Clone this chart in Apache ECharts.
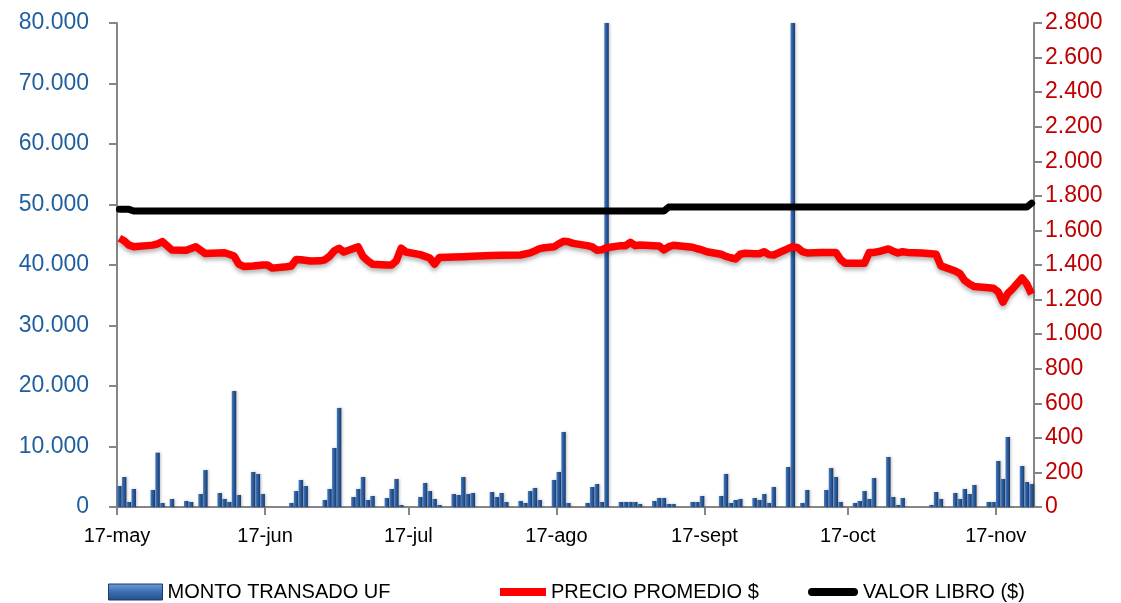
<!DOCTYPE html>
<html>
<head>
<meta charset="utf-8">
<script src="https://cdn.jsdelivr.net/npm/echarts@6/dist/echarts.min.js"></script>
<style>
html,body{margin:0;padding:0;background:#fff;}
#chart{width:1121px;height:603px;}
</style>
</head>
<body>
<div id="chart"></div>
<script>
// Day offsets counted from 17-may
const tickDays = [0, 31, 61, 92, 123, 153, 184];
const tickLabels = ['17-may', '17-jun', '17-jul', '17-ago', '17-sept', '17-oct', '17-nov'];

// MONTO TRANSADO UF (bars)
const barDays = [0,1,2,3,7,8,9,11,14,15,17,18,21,22,23,24,25,28,29,30,36,37,38,39,43,44,45,46,49,50,51,52,53,56,57,58,59,63,64,65,66,67,70,71,72,73,74,78,79,80,81,84,85,86,87,88,91,92,93,94,98,99,100,101,102,105,106,107,108,109,112,113,114,115,116,120,121,122,126,127,128,129,130,133,134,135,136,137,140,141,143,144,148,149,150,151,154,155,156,157,158,161,162,163,164,170,171,172,175,176,177,178,179,182,183,184,185,186,189,190,191];
const barValues = [3470,4960,830,2980,2810,8980,660,1320,990,830,2150,6110,2310,1320,830,19170,1980,5790,5460,2150,660,2640,4460,3470,1160,2980,9750,16370,1650,2980,4960,1160,1820,1490,2980,4630,330,1650,3970,2640,1320,330,2150,1980,4960,2150,2310,2480,1650,2310,830,990,660,2640,3140,1160,4460,5790,12400,660,660,3310,3800,830,150000,830,830,830,830,500,990,1490,1490,500,500,830,830,1820,1820,5460,660,1160,1320,1490,1160,2150,660,3310,6610,150000,660,2810,2810,6440,4960,830,660,990,2640,1320,4790,8260,1650,330,1490,330,2480,1320,2310,1320,2980,2150,3640,830,830,7600,4630,11570,6780,4130,3800];

// PRECIO PROMEDIO $
const priceDays = [0,1,2,3,7,8,9,11,14,16,18,22,23,24,25,26,28,30,31,32,35,36,37,38,40,42,43,44,45,46,47,49,50,51,52,53,56,57,58,59,60,63,64,65,66,67,70,72,74,78,80,84,86,87,88,89,91,92,93,94,95,98,99,100,101,102,105,106,107,108,109,112,113,114,115,116,119,120,121,122,123,126,127,128,129,130,131,133,134,135,136,137,140,141,142,143,144,147,149,150,151,152,154,156,157,158,159,161,162,163,164,165,168,170,171,172,175,176,177,178,179,182,183,184,185,186,187,189,190,191];
const priceValues = [1555,1540,1515,1506,1515,1522,1535,1487,1485,1506,1466,1471,1462,1452,1405,1392,1394,1400,1400,1382,1390,1394,1432,1430,1423,1424,1430,1450,1482,1497,1475,1495,1505,1450,1425,1405,1400,1400,1425,1497,1475,1460,1450,1440,1405,1443,1446,1448,1450,1455,1457,1458,1470,1482,1495,1500,1505,1522,1537,1535,1525,1512,1505,1485,1488,1500,1512,1512,1531,1512,1516,1512,1510,1487,1505,1514,1506,1503,1494,1487,1477,1462,1450,1442,1435,1462,1468,1465,1465,1477,1460,1458,1495,1506,1500,1477,1470,1473,1473,1473,1432,1410,1410,1410,1472,1473,1478,1493,1480,1470,1477,1473,1470,1465,1462,1395,1365,1350,1310,1290,1275,1268,1265,1245,1185,1235,1262,1325,1290,1232];

// VALOR LIBRO ($)
const bookDays = [0,1,2,3,114,115,190,191];
const bookValues = [1722,1722,1722,1712,1712,1735,1735,1758];

const FONT = '"Liberation Sans", Arial, sans-serif';
const fmt = v => String(v).replace(/\B(?=(\d{3})+(?!\d))/g, '.');
const pair = (days, vals) => days.map((d, i) => [d + 0.5, vals[i]]);

const barColor = new echarts.graphic.LinearGradient(0, 0, 1, 0, [
  {offset: 0, color: '#4a7fc4'},
  {offset: 0.35, color: '#2f62a6'},
  {offset: 1, color: '#1b3a6b'}
]);
const legendBarColor = new echarts.graphic.LinearGradient(0, 0, 0, 1, [
  {offset: 0, color: '#6f9fdc'},
  {offset: 0.5, color: '#3a6db3'},
  {offset: 1, color: '#254d88'}
]);

const legendText = {fontFamily: FONT, fontSize: 20, color: '#000'};

const chart = echarts.init(document.getElementById('chart'), null, {renderer: 'canvas'});
chart.setOption({
  animation: false,
  backgroundColor: '#ffffff',
  grid: {left: 117, right: 87, top: 23, bottom: 96, containLabel: false},
  legend: [
    {left: 108, top: 582, padding: 0, itemWidth: 54, itemHeight: 16, itemGap: 0, textStyle: legendText,
     data: [{name: 'MONTO TRANSADO UF', icon: 'rect', itemStyle: {color: legendBarColor, borderColor: '#1b3a6b', borderWidth: 1}}]},
    {left: 500, top: 582, padding: 0, itemWidth: 46, itemHeight: 16, itemGap: 0, textStyle: legendText,
     data: [{name: 'PRECIO PROMEDIO $', icon: 'path://M0,0L46,0L46,8L0,8Z', itemStyle: {color: '#ff0000'}}]},
    {left: 808, top: 582, padding: 0, itemWidth: 50, itemHeight: 16, itemGap: 0, textStyle: legendText,
     data: [{name: 'VALOR LIBRO ($)', icon: 'path://M4,0L46,0A4,4,0,0,1,46,8L4,8A4,4,0,0,1,4,0Z', itemStyle: {color: '#000000'}}]}
  ],
  xAxis: {
    type: 'value', min: 0, max: 192,
    axisLine: {show: true, onZero: false, lineStyle: {color: '#868686', width: 2}},
    axisTick: {show: true, length: 8, customValues: tickDays, lineStyle: {color: '#868686', width: 2}},
    axisLabel: {customValues: tickDays, margin: 19, fontFamily: FONT, fontSize: 20, color: '#000',
      formatter: v => tickLabels[tickDays.indexOf(Math.round(v))] || ''},
    splitLine: {show: false}
  },
  yAxis: [
    {type: 'value', min: 0, max: 80000, interval: 10000, position: 'left',
     axisLine: {show: true, lineStyle: {color: '#868686', width: 2}},
     axisTick: {show: true, length: 8, lineStyle: {color: '#868686', width: 2}},
     axisLabel: {margin: 28, fontFamily: FONT, fontSize: 23, color: '#1f5f9f', formatter: fmt},
     splitLine: {show: false}},
    {type: 'value', min: 0, max: 2800, interval: 200, position: 'right',
     axisLine: {show: true, lineStyle: {color: '#868686', width: 2}},
     axisTick: {show: true, length: 8, lineStyle: {color: '#868686', width: 2}},
     axisLabel: {margin: 11, fontFamily: FONT, fontSize: 23, color: '#c00000', formatter: fmt},
     splitLine: {show: false}}
  ],
  series: [
    {name: 'MONTO TRANSADO UF', type: 'bar', yAxisIndex: 0, barWidth: 4.5, clip: true,
     itemStyle: {color: barColor, shadowColor: 'rgba(0,0,0,0.25)', shadowBlur: 3, shadowOffsetX: 1},
     data: pair(barDays, barValues)},
    {name: 'PRECIO PROMEDIO $', type: 'line', yAxisIndex: 1, showSymbol: false, symbol: 'none',
     lineStyle: {color: '#ff0000', width: 7.5, join: 'round', shadowColor: 'rgba(0,0,0,0.3)', shadowBlur: 4, shadowOffsetY: 3},
     itemStyle: {color: '#ff0000'},
     data: pair(priceDays, priceValues)},
    {name: 'VALOR LIBRO ($)', type: 'line', yAxisIndex: 1, showSymbol: false, symbol: 'none',
     lineStyle: {color: '#000000', width: 7, cap: 'round', join: 'round'},
     itemStyle: {color: '#000000'},
     data: pair(bookDays, bookValues)}
  ]
});
</script>
</body>
</html>
